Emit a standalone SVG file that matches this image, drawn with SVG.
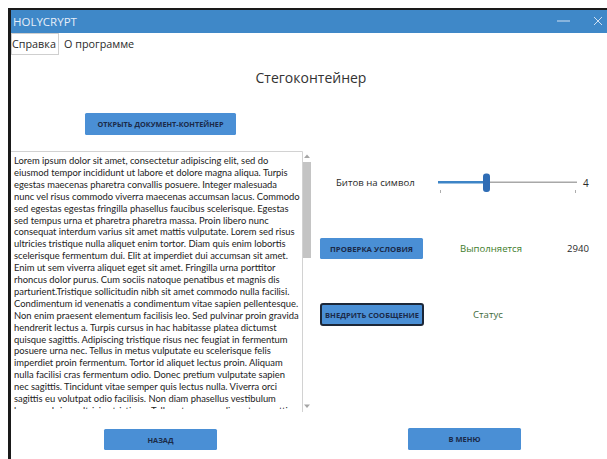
<svg xmlns="http://www.w3.org/2000/svg" width="607" height="459" viewBox="0 0 607 459">
<style>
.btn{fill:#4a8fd5;}
.btxt{font-family:"Open Sans","Noto Sans",sans-serif;font-weight:bold;font-size:7px;fill:#1b2a48;text-anchor:middle;}
.ui{font-family:"Open Sans","Noto Sans",sans-serif;fill:#2a2a2a;}
.body{font-family:Lato,"Open Sans",sans-serif;font-size:9.4px;fill:#222;}
</style>
<defs>
<clipPath id="boxclip"><rect x="11" y="152" width="291" height="257"/></clipPath>
</defs>
<rect x="0" y="0" width="607" height="459" fill="#ffffff"/>
<g id="window">
<rect x="8" y="8" width="599" height="2" fill="#1a1a1a"/>
<rect x="8" y="8" width="3" height="451" fill="#1a1a1a"/>
<rect x="11" y="10" width="596" height="23" fill="#3f88c8"/>
<text x="13" y="26" class="ui" font-size="11.5" style="fill:#e6eef8">HOLYCRYPT</text>
<rect x="557" y="20.5" width="13" height="1" fill="#cfe0f2"/>
<path d="M594 17 L602 25 M602 17 L594 25" stroke="#cfe0f2" stroke-width="1"/>
</g>
<g id="menu">
<rect x="11.5" y="33.5" width="47" height="21" fill="#ffffff" stroke="#cfcfcf" stroke-width="1"/>
<text x="12" y="48" class="ui" font-size="10.8">Справка</text>
<text x="64" y="48" class="ui" font-size="10.8">О программе</text>
</g>
<g id="heading">
<text x="311" y="83" class="ui" font-size="14" text-anchor="middle" style="fill:#333">Стегоконтейнер</text>
</g>
<g id="btn-open">
<rect x="85" y="113" width="151" height="22" rx="1.5" class="btn"/>
<text x="160.5" y="127" class="btxt" textLength="126" lengthAdjust="spacingAndGlyphs">ОТКРЫТЬ ДОКУМЕНТ-КОНТЕЙНЕР</text>
</g>
<g id="textbox">
<path d="M11 151.5 H302.5 V412" fill="none" stroke="#d2d2d2" stroke-width="1"/>
<g clip-path="url(#boxclip)" class="body">
<text x="14" y="164">Lorem ipsum dolor sit amet, consectetur adipiscing elit, sed do</text>
<text x="14" y="175.9">eiusmod tempor incididunt ut labore et dolore magna aliqua. Turpis</text>
<text x="14" y="187.8">egestas maecenas pharetra convallis posuere. Integer malesuada</text>
<text x="14" y="199.7">nunc vel risus commodo viverra maecenas accumsan lacus. Commodo</text>
<text x="14" y="211.6">sed egestas egestas fringilla phasellus faucibus scelerisque. Egestas</text>
<text x="14" y="223.5">sed tempus urna et pharetra pharetra massa. Proin libero nunc</text>
<text x="14" y="235.4">consequat interdum varius sit amet mattis vulputate. Lorem sed risus</text>
<text x="14" y="247.3">ultricies tristique nulla aliquet enim tortor. Diam quis enim lobortis</text>
<text x="14" y="259.2">scelerisque fermentum dui. Elit at imperdiet dui accumsan sit amet.</text>
<text x="14" y="271.1">Enim ut sem viverra aliquet eget sit amet. Fringilla urna porttitor</text>
<text x="14" y="283">rhoncus dolor purus. Cum sociis natoque penatibus et magnis dis</text>
<text x="14" y="294.9">parturient.Tristique sollicitudin nibh sit amet commodo nulla facilisi.</text>
<text x="14" y="306.8">Condimentum id venenatis a condimentum vitae sapien pellentesque.</text>
<text x="14" y="318.7">Non enim praesent elementum facilisis leo. Sed pulvinar proin gravida</text>
<text x="14" y="330.6">hendrerit lectus a. Turpis cursus in hac habitasse platea dictumst</text>
<text x="14" y="342.5">quisque sagittis. Adipiscing tristique risus nec feugiat in fermentum</text>
<text x="14" y="354.4">posuere urna nec. Tellus in metus vulputate eu scelerisque felis</text>
<text x="14" y="366.3">imperdiet proin fermentum. Tortor id aliquet lectus proin. Aliquam</text>
<text x="14" y="378.2">nulla facilisi cras fermentum odio. Donec pretium vulputate sapien</text>
<text x="14" y="390.1">nec sagittis. Tincidunt vitae semper quis lectus nulla. Viverra orci</text>
<text x="14" y="402">sagittis eu volutpat odio facilisis. Non diam phasellus vestibulum</text>
<text x="14" y="413.9">lorem sed risus ultricies tristique. Tellus at urna condimentum mattis</text>
</g>
</g>
<g id="scrollbar">
<rect x="303" y="162" width="8" height="96" fill="#c4c4c4"/>
<path d="M304 158 L307 154.5 L310 158 Z" fill="#a6a6a6"/>
<path d="M304 404.5 L307 408 L310 404.5 Z" fill="#a6a6a6"/>
</g>
<g id="bits-label">
<text x="336" y="186" class="ui" font-size="9.6">Битов на символ</text>
</g>
<g id="slider">
<rect x="438" y="181.5" width="139" height="1.5" fill="#a8a8a8"/>
<rect x="438" y="181" width="48" height="2.5" fill="#3d84c6"/>
<rect x="483" y="173.5" width="7" height="18.5" rx="3" fill="#2f6db5"/>
<rect x="440" y="190" width="0.8" height="3" fill="#999"/>
<rect x="575" y="190" width="0.8" height="3" fill="#999"/>
<text x="583" y="187" class="ui" font-size="10">4</text>
</g>
<g id="btn-check">
<rect x="320" y="238" width="103" height="21" rx="1.5" class="btn"/>
<text x="371.5" y="251.5" class="btxt" textLength="83" lengthAdjust="spacingAndGlyphs">ПРОВЕРКА УСЛОВИЯ</text>
</g>
<g id="status-ok">
<text x="460" y="252" class="ui" font-size="9.6" style="fill:#3f7d2c">Выполняется</text>
</g>
<g id="count">
<text x="567" y="252" class="ui" font-size="9.6">2940</text>
</g>
<g id="btn-embed">
<rect x="321" y="304" width="102" height="21" rx="2" class="btn" stroke="#1c2738" stroke-width="2"/>
<text x="372" y="317.5" class="btxt" textLength="94" lengthAdjust="spacingAndGlyphs">ВНЕДРИТЬ СООБЩЕНИЕ</text>
</g>
<g id="status">
<text x="473" y="318" class="ui" font-size="9.6" style="fill:#436b3c">Статус</text>
</g>
<g id="btn-back">
<rect x="104" y="429" width="113" height="21" rx="1.5" class="btn"/>
<text x="160.5" y="442.5" class="btxt" textLength="26" lengthAdjust="spacingAndGlyphs">НАЗАД</text>
</g>
<g id="btn-menu">
<rect x="408" y="428" width="113" height="22" rx="1.5" class="btn"/>
<text x="464.5" y="442" class="btxt" textLength="32" lengthAdjust="spacingAndGlyphs">В МЕНЮ</text>
</g>
<g id="connectors"></g>
</svg>
